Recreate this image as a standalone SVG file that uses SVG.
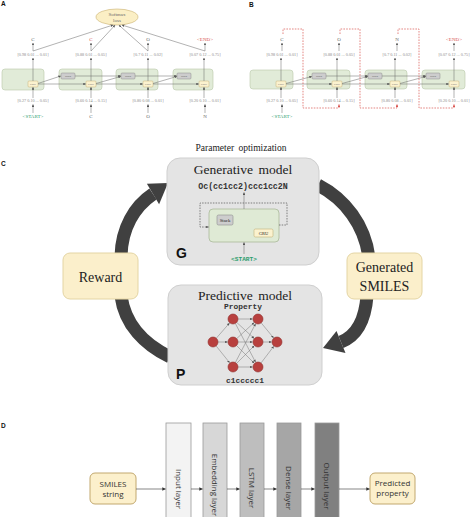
<svg xmlns="http://www.w3.org/2000/svg" width="474" height="517" viewBox="0 0 474 517">
<defs>
<marker id="a" viewBox="0 0 6 6" refX="5.5" refY="3" markerWidth="2.6" markerHeight="2.6" markerUnits="userSpaceOnUse" orient="auto"><path d="M0,0L6,3L0,6z" fill="#555"/></marker>
<marker id="ar" viewBox="0 0 6 6" refX="5.5" refY="3" markerWidth="2.6" markerHeight="2.6" markerUnits="userSpaceOnUse" orient="auto"><path d="M0,0L6,3L0,6z" fill="#d9534f"/></marker>
<marker id="ad" viewBox="0 0 6 6" refX="5.5" refY="3" markerWidth="3.5" markerHeight="3.5" markerUnits="userSpaceOnUse" orient="auto"><path d="M0,0L6,3L0,6z" fill="#333"/></marker>
</defs>
<style>
.lbl{font-family:"Liberation Sans",Arial,sans-serif;font-weight:bold;font-size:6.5px;fill:#111}
.vec{font-family:"Liberation Serif",serif;font-size:4.2px;fill:#8a8a8a;text-anchor:middle}
.tok{font-family:"Liberation Serif",serif;font-size:5px;fill:#6a6a6a;text-anchor:middle}
.gbox{fill:#e1ebd8;stroke:#b8c7aa;stroke-width:0.6}
.gru{fill:#fbf2cf;stroke:#c4b178;stroke-width:0.5}
.stk{fill:#cdcdcd;stroke:#8d8d8d;stroke-width:0.5}
.tiny{font-family:"Liberation Serif",serif;font-size:2.8px;fill:#555;text-anchor:middle}
.ln{stroke:#666;stroke-width:0.5;fill:none}
.rd{stroke:#d9534f;stroke-width:0.7;stroke-dasharray:1.6 1.2;fill:none}
.big{stroke:#404040;stroke-width:13;fill:none}
.card{fill:#e4e4e4;stroke:#cfcfcf;stroke-width:1}
.yel{fill:#fbefcb;stroke:#e4d5a4;stroke-width:1}
.ser{font-family:"Liberation Serif","Times New Roman",serif;fill:#222;text-anchor:middle}
.mono{font-family:"Liberation Mono","Courier New",monospace;font-weight:bold;fill:#333;text-anchor:middle}
.nn{fill:#b8403e;stroke:#8e2f2e;stroke-width:0.6}
.nl{stroke:#777;stroke-width:0.5;fill:none}
.bar{stroke:#9a9a9a;stroke-width:0.8}
.sans{font-family:"Open Sans","Liberation Sans",sans-serif;font-size:8px;fill:#333;text-anchor:middle}
.dl{stroke:#555;stroke-width:0.7;fill:none}
.dyel{fill:#fcf0cc;stroke:#c2a86e;stroke-width:1}
.red{fill:#d9534f}
.grn{fill:#2e9e6e}
</style>
<rect width="474" height="517" fill="#fff"/>

<!-- panel labels -->
<text class="lbl" x="1" y="6">A</text>
<text class="lbl" x="249" y="7">B</text>
<text class="lbl" x="1" y="166">C</text>
<text class="lbl" x="1" y="428">D</text>

<!-- ============ PANEL A ============ -->
<g id="a-softmax">
<ellipse cx="117" cy="17" rx="21" ry="8" fill="#fbefc5" stroke="#c9b070" stroke-width="0.6"/>
<text class="tok" x="117" y="15.8" font-size="4.2" fill="#444">Softmax</text>
<text class="tok" x="117" y="21.6" font-size="4.2" fill="#444">loss</text>
</g>
<g id="a-cell1"><rect class="gbox" x="2" y="69" width="42" height="21" rx="3"/><rect class="gru" x="28" y="81" width="10" height="6" rx="1"/><text class="tiny" x="33" y="85">GRU</text></g>
<g id="a-cell2"><rect class="gbox" x="59" y="69" width="43" height="21" rx="3"/><rect class="stk" x="61" y="73" width="14" height="6" rx="1"/><text class="tiny" x="68" y="77">Stack</text><rect class="gru" x="86" y="81" width="10" height="6" rx="1"/><text class="tiny" x="91" y="85">GRU</text></g>
<g id="a-cell3"><rect class="gbox" x="116" y="69" width="42" height="21" rx="3"/><rect class="stk" x="121" y="73" width="14" height="6" rx="1"/><text class="tiny" x="128" y="77">Stack</text><rect class="gru" x="143" y="81" width="10" height="6" rx="1"/><text class="tiny" x="148" y="85">GRU</text></g>
<g id="a-cell4"><rect class="gbox" x="173" y="69" width="40" height="21" rx="3"/><rect class="stk" x="177" y="73" width="14" height="6" rx="1"/><text class="tiny" x="184" y="77">Stack</text><rect class="gru" x="199" y="81" width="10" height="6" rx="1"/><text class="tiny" x="204" y="85">GRU</text></g>
<g id="a-texts">
<text class="tok" x="33" y="41">C</text>
<text class="tok red" x="91" y="41">C</text>
<text class="tok" x="148" y="41">O</text>
<text class="tok red" x="205" y="41" font-size="4.5">&lt;END&gt;</text>
<text class="vec" x="33" y="55.5">[0.98 0.01 ... 0.01]</text>
<text class="vec" x="91" y="55.5">[0.88 0.01 ... 0.05]</text>
<text class="vec" x="148" y="55.5">[0.7 0.11 ... 0.02]</text>
<text class="vec" x="205" y="55.5">[0.07 0.12 ... 0.75]</text>
<text class="vec" x="33" y="101.5">[0.27 0.10 ... 0.05]</text>
<text class="vec" x="91" y="101.5">[0.60 0.14 ... 0.15]</text>
<text class="vec" x="148" y="101.5">[0.80 0.08 ... 0.01]</text>
<text class="vec" x="205" y="101.5">[0.20 0.10 ... 0.01]</text>
<text class="tok grn" x="33" y="117.5" font-size="4.5">&lt;START&gt;</text>
<text class="tok" x="91" y="117.5">C</text>
<text class="tok" x="148" y="117.5">O</text>
<text class="tok" x="205" y="117.5">N</text>
</g>

<!-- ============ PANEL B ============ -->
<g id="b-cell1"><rect class="gbox" x="250" y="70" width="43" height="19" rx="3"/><rect class="gru" x="276" y="81" width="10" height="6" rx="1"/><text class="tiny" x="281" y="85">GRU</text></g>
<g id="b-cell2"><rect class="gbox" x="307" y="70" width="43" height="19" rx="3"/><rect class="stk" x="312" y="73" width="14" height="6" rx="1"/><text class="tiny" x="319" y="77">Stack</text><rect class="gru" x="332" y="81" width="10" height="6" rx="1"/><text class="tiny" x="337" y="85">GRU</text></g>
<g id="b-cell3"><rect class="gbox" x="365" y="70" width="42" height="19" rx="3"/><rect class="stk" x="368" y="73" width="14" height="6" rx="1"/><text class="tiny" x="375" y="77">Stack</text><rect class="gru" x="390" y="81" width="10" height="6" rx="1"/><text class="tiny" x="395" y="85">GRU</text></g>
<g id="b-cell4"><rect class="gbox" x="422" y="70" width="43" height="19" rx="3"/><rect class="stk" x="426" y="73" width="14" height="6" rx="1"/><text class="tiny" x="433" y="77">Stack</text><rect class="gru" x="449" y="81" width="10" height="6" rx="1"/><text class="tiny" x="454" y="85">GRU</text></g>
<g id="b-texts">
<text class="tok" x="282" y="41">C</text>
<text class="tok" x="339" y="41">O</text>
<text class="tok" x="397" y="41">N</text>
<text class="tok red" x="454" y="41" font-size="4.5">&lt;END&gt;</text>
<text class="vec" x="282" y="55.5">[0.98 0.01 ... 0.01]</text>
<text class="vec" x="339" y="55.5">[0.88 0.01 ... 0.05]</text>
<text class="vec" x="397" y="55.5">[0.7 0.11 ... 0.02]</text>
<text class="vec" x="454" y="55.5">[0.07 0.12 ... 0.75]</text>
<text class="vec" x="282" y="101.5">[0.27 0.10 ... 0.05]</text>
<text class="vec" x="339" y="101.5">[0.60 0.14 ... 0.15]</text>
<text class="vec" x="397" y="101.5">[0.80 0.08 ... 0.01]</text>
<text class="vec" x="454" y="101.5">[0.20 0.10 ... 0.01]</text>
<text class="tok grn" x="282" y="117.5" font-size="4.5">&lt;START&gt;</text>
</g>

<!-- ============ PANEL C ============ -->
<text class="ser" x="241" y="151" font-size="9.5" word-spacing="2">Parameter optimization</text>
<g id="cycle-arrows">
<path class="big" d="M121 258 C121 228 135 206 153 194"/>
<polygon points="168,183 159.1,204.3 146.9,183.7" fill="#404040"/>
<path class="big" d="M318 185 C345 199 365 225 369 258"/>
<path class="big" d="M367 296 C365 322 356 336 341 342"/>
<polygon points="323,348 345.5,353.1 336.5,330.9" fill="#404040"/>
<path class="big" d="M170 357 C145 345 125 325 121 296"/>
</g>
<g id="generative-model">
<rect class="card" x="167" y="158" width="152" height="107" rx="13"/>
<text class="ser" x="243" y="174" font-size="13.5" word-spacing="2">Generative model</text>
<text class="mono" x="243" y="189" font-size="8.3">Oc(cc1cc2)ccc1cc2N</text>
<rect x="209" y="209" width="70" height="33" rx="4" fill="#dfead5" stroke="#aab99a" stroke-width="0.8"/>
<rect x="217" y="215" width="16" height="10" rx="1.5" fill="#cdcdcd" stroke="#8d8d8d" stroke-width="0.6"/>
<text class="ser" x="225" y="221.5" font-size="4.8" fill="#444">Stack</text>
<rect x="254" y="229" width="19" height="8" rx="1.5" fill="#fbf2cf" stroke="#c4b178" stroke-width="0.6"/>
<text class="ser" x="263.5" y="234.6" font-size="4.5" fill="#444">GRU</text>
<text x="244" y="261" font-family="Liberation Mono,Courier New,monospace" font-weight="bold" font-size="6.2" fill="#2e9e6e" text-anchor="middle">&lt;START&gt;</text>
<text x="176" y="258" font-family="Liberation Sans,Arial,sans-serif" font-weight="bold" font-size="14" fill="#111">G</text>
</g>
<g id="predictive-model">
<rect class="card" x="168" y="285" width="154" height="100" rx="13"/>
<text class="ser" x="245" y="300" font-size="13.5" word-spacing="2">Predictive model</text>
<text class="mono" x="243" y="309" font-size="7.9">Property</text>
<text class="mono" x="245" y="383" font-size="7.9">c1ccccc1</text>
<text x="176" y="379" font-family="Liberation Sans,Arial,sans-serif" font-weight="bold" font-size="14" fill="#111">P</text>
<g id="nn-edges">
<line class="nl" x1="216.3" y1="338.2" x2="229.4" y2="323.2" marker-end="url(#a)"/>
<line class="nl" x1="218" y1="342" x2="227.5" y2="342" marker-end="url(#a)"/>
<line class="nl" x1="216.1" y1="345.9" x2="229.6" y2="362.7" marker-end="url(#a)"/>
<line class="nl" x1="238" y1="319" x2="252.5" y2="319" marker-end="url(#a)"/>
<line class="nl" x1="236.7" y1="322.4" x2="254" y2="338.3" marker-end="url(#a)"/>
<line class="nl" x1="235.3" y1="323.4" x2="255.5" y2="362.1" marker-end="url(#a)"/>
<line class="nl" x1="236.7" y1="338.6" x2="254" y2="322.7" marker-end="url(#a)"/>
<line class="nl" x1="238" y1="342" x2="252.5" y2="342" marker-end="url(#a)"/>
<line class="nl" x1="236.5" y1="345.5" x2="254.1" y2="363.1" marker-end="url(#a)"/>
<line class="nl" x1="235.3" y1="362.6" x2="255.5" y2="323.9" marker-end="url(#a)"/>
<line class="nl" x1="236.5" y1="363.5" x2="254.1" y2="345.9" marker-end="url(#a)"/>
<line class="nl" x1="238" y1="367" x2="252.5" y2="367" marker-end="url(#a)"/>
<line class="nl" x1="261.2" y1="322.9" x2="273.5" y2="337.8" marker-end="url(#a)"/>
<line class="nl" x1="263" y1="342" x2="271.5" y2="342" marker-end="url(#a)"/>
<line class="nl" x1="261" y1="363" x2="273.7" y2="346.4" marker-end="url(#a)"/>
</g>
<circle class="nn" cx="213" cy="342" r="5"/>
<circle class="nn" cx="233" cy="319" r="5"/><circle class="nn" cx="233" cy="342" r="5"/><circle class="nn" cx="233" cy="367" r="5"/>
<circle class="nn" cx="258" cy="319" r="5"/><circle class="nn" cx="258" cy="342" r="5"/><circle class="nn" cx="258" cy="367" r="5"/>
<circle class="nn" cx="277" cy="342" r="5"/>
</g>
<g id="reward"><rect class="yel" x="63" y="253" width="75" height="46" rx="7"/><text class="ser" x="100.5" y="282" font-size="14">Reward</text></g>
<g id="generated-smiles"><rect class="yel" x="347" y="253" width="75" height="46" rx="7"/><text class="ser" x="384.5" y="272" font-size="14">Generated</text><text class="ser" x="384.5" y="291" font-size="14">SMILES</text></g>

<!-- ============ PANEL D ============ -->
<g id="smiles-string"><rect class="dyel" x="90" y="473" width="46" height="31" rx="5"/><text class="sans" x="113" y="487">SMILES</text><text class="sans" x="113" y="497">string</text></g>
<g id="input-layer"><rect class="bar" x="166" y="423" width="25" height="100" fill="#f3f3f3"/><text class="sans" transform="translate(178.5,489) rotate(90)" dy="2.8">Input layer</text></g>
<g id="embedding-layer"><rect class="bar" x="203" y="423" width="24" height="100" fill="#d7d7d7"/><text class="sans" transform="translate(215,485) rotate(90)" dy="2.7" font-size="7.6">Embedding layer</text></g>
<g id="lstm-layer"><rect class="bar" x="240" y="423" width="24" height="100" fill="#bebebe"/><text class="sans" transform="translate(252,488) rotate(90)" dy="2.8">LSTM layer</text></g>
<g id="dense-layer"><rect class="bar" x="277" y="423" width="24" height="100" fill="#a6a6a6"/><text class="sans" transform="translate(289,488) rotate(90)" dy="2.8">Dense layer</text></g>
<g id="output-layer"><rect class="bar" x="315" y="423" width="24" height="100" fill="#808080" stroke="#6a6a6a"/><text class="sans" transform="translate(327,486) rotate(90)" dy="2.8">Output layer</text></g>
<g id="predicted-property"><rect class="dyel" x="370" y="473" width="45" height="31" rx="5"/><text class="sans" x="392.5" y="486">Predicted</text><text class="sans" x="392.5" y="496">property</text></g>

<!-- ============ CONNECTORS ============ -->
<g id="connectors">
<g class="ln">
<line x1="33" y1="113" x2="33" y2="104.5" marker-end="url(#a)"/>
<line x1="91" y1="113" x2="91" y2="104.5" marker-end="url(#a)"/>
<line x1="148" y1="113" x2="148" y2="104.5" marker-end="url(#a)"/>
<line x1="205" y1="113" x2="205" y2="104.5" marker-end="url(#a)"/>
<line x1="33" y1="98" x2="33" y2="87.3" marker-end="url(#a)"/>
<line x1="91" y1="98" x2="91" y2="87.3" marker-end="url(#a)"/>
<line x1="148" y1="98" x2="148" y2="87.3" marker-end="url(#a)"/>
<line x1="204" y1="98" x2="204" y2="87.3" marker-end="url(#a)"/>
<line x1="33" y1="81" x2="33" y2="58" marker-end="url(#a)"/>
<line x1="91" y1="81" x2="91" y2="58" marker-end="url(#a)"/>
<line x1="148" y1="81" x2="148" y2="58" marker-end="url(#a)"/>
<line x1="204" y1="81" x2="204" y2="58" marker-end="url(#a)"/>
<line x1="33" y1="51" x2="33" y2="43" marker-end="url(#a)"/>
<line x1="91" y1="51" x2="91" y2="43" marker-end="url(#a)"/>
<line x1="148" y1="51" x2="148" y2="43" marker-end="url(#a)"/>
<line x1="205" y1="51" x2="205" y2="43" marker-end="url(#a)"/>
<line x1="33" y1="51" x2="113" y2="25" marker-end="url(#a)"/>
<line x1="91" y1="51" x2="115" y2="25.2" marker-end="url(#a)"/>
<line x1="148" y1="51" x2="119" y2="25.2" marker-end="url(#a)"/>
<line x1="205" y1="51" x2="122" y2="25" marker-end="url(#a)"/>
<line x1="38" y1="84" x2="85.7" y2="84" marker-end="url(#a)"/>
<line x1="38" y1="83.5" x2="60.7" y2="76" marker-end="url(#a)"/>
<line x1="96" y1="84" x2="142.7" y2="84" marker-end="url(#a)"/>
<line x1="96" y1="83.5" x2="120.7" y2="76.5" marker-end="url(#a)"/>
<line x1="75" y1="76" x2="120.7" y2="76" marker-end="url(#a)"/>
<line x1="153" y1="84" x2="198.7" y2="84" marker-end="url(#a)"/>
<line x1="153" y1="83.5" x2="176.7" y2="76.5" marker-end="url(#a)"/>
<line x1="135" y1="76" x2="176.7" y2="76" marker-end="url(#a)"/>
<line x1="282" y1="113" x2="282" y2="104.5" marker-end="url(#a)"/>
<line x1="281" y1="98" x2="281" y2="87.3" marker-end="url(#a)"/>
<line x1="337" y1="98" x2="337" y2="87.3" marker-end="url(#a)"/>
<line x1="395" y1="98" x2="395" y2="87.3" marker-end="url(#a)"/>
<line x1="454" y1="98" x2="454" y2="87.3" marker-end="url(#a)"/>
<line x1="281" y1="81" x2="281" y2="58" marker-end="url(#a)"/>
<line x1="337" y1="81" x2="337" y2="58" marker-end="url(#a)"/>
<line x1="395" y1="81" x2="395" y2="58" marker-end="url(#a)"/>
<line x1="454" y1="81" x2="454" y2="58" marker-end="url(#a)"/>
<line x1="282" y1="51" x2="282" y2="43" marker-end="url(#a)"/>
<line x1="339" y1="51" x2="339" y2="43" marker-end="url(#a)"/>
<line x1="397" y1="51" x2="397" y2="43" marker-end="url(#a)"/>
<line x1="454" y1="51" x2="454" y2="43" marker-end="url(#a)"/>
<line x1="286" y1="84" x2="331.7" y2="84" marker-end="url(#a)"/>
<line x1="286" y1="83.5" x2="311.7" y2="76.5" marker-end="url(#a)"/>
<line x1="342" y1="84" x2="389.7" y2="84" marker-end="url(#a)"/>
<line x1="342" y1="83.5" x2="367.7" y2="76.5" marker-end="url(#a)"/>
<line x1="326" y1="76" x2="367.7" y2="76" marker-end="url(#a)"/>
<line x1="400" y1="84" x2="448.7" y2="84" marker-end="url(#a)"/>
<line x1="400" y1="83.5" x2="425.7" y2="76.5" marker-end="url(#a)"/>
<line x1="382" y1="76" x2="425.7" y2="76" marker-end="url(#a)"/>
</g>
<path class="rd" d="M283 34 V29 H303 V108 H339 V104.5" marker-end="url(#ar)"/>
<path class="rd" d="M340 34 V29 H360 V108 H397 V104.5" marker-end="url(#ar)"/>
<path class="rd" d="M398 34 V29 H419 V108 H454 V104.5" marker-end="url(#ar)"/>
<path d="M279 225 H287 V203 H200 V227 H208.5" fill="none" stroke="#555" stroke-width="0.7" stroke-dasharray="1.5 1.2" marker-end="url(#a)"/>
<line class="ln" x1="244" y1="209" x2="244" y2="192.5" stroke-width="0.7" marker-end="url(#a)"/>
<line class="ln" x1="244" y1="254" x2="244" y2="242.5" stroke-width="0.7" marker-end="url(#a)"/>
<line class="dl" x1="136" y1="489" x2="165.5" y2="489" marker-end="url(#ad)"/>
<line class="dl" x1="191" y1="489" x2="202.5" y2="489" marker-end="url(#ad)"/>
<line class="dl" x1="227" y1="489" x2="239.5" y2="489" marker-end="url(#ad)"/>
<line class="dl" x1="264" y1="489" x2="276.5" y2="489" marker-end="url(#ad)"/>
<line class="dl" x1="301" y1="489" x2="314.5" y2="489" marker-end="url(#ad)"/>
<line class="dl" x1="339" y1="489" x2="369.5" y2="489" marker-end="url(#ad)"/>
</g>
</svg>
